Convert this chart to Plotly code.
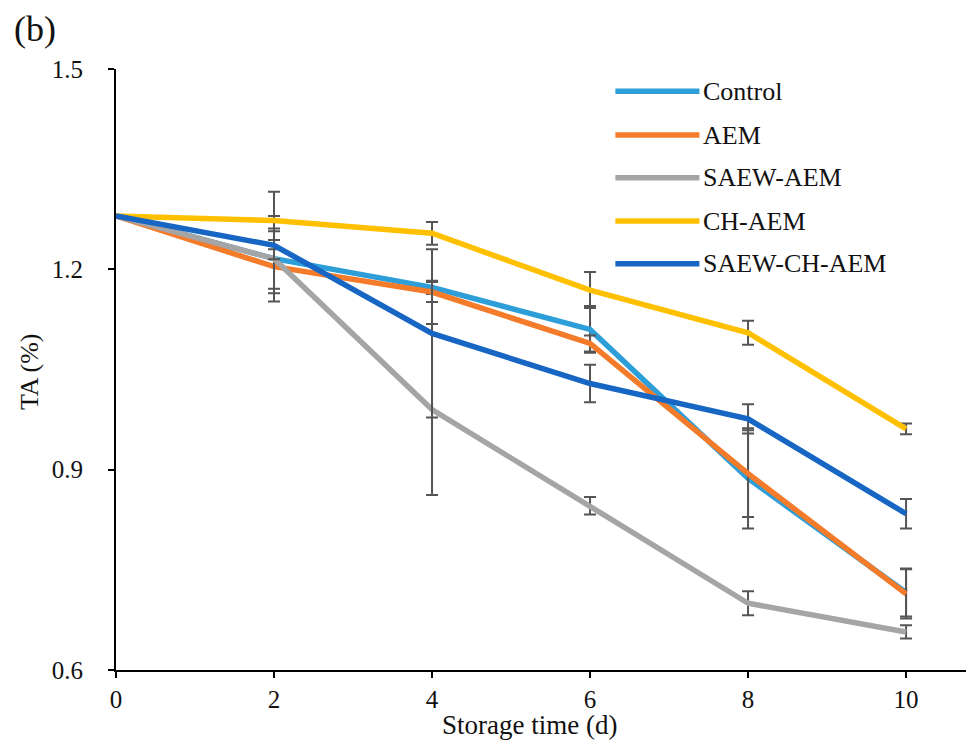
import plotly.graph_objects as go

days = [0, 2, 4, 6, 8, 10]
series_names = ["Control", "AEM", "SAEW-AEM", "CH-AEM", "SAEW-CH-AEM"]
control = [1.28, 1.216, 1.173, 1.110, 0.887, 0.716]
aem = [1.28, 1.204, 1.166, 1.089, 0.894, 0.714]
saew_aem = [1.28, 1.216, 0.990, 0.846, 0.700, 0.657]
ch_aem = [1.28, 1.273, 1.254, 1.169, 1.105, 0.961]
saew_ch_aem = [1.28, 1.236, 1.104, 1.029, 0.976, 0.834]

control_err = [0, 0.045, 0.010, 0.035, 0.075, 0.036]
aem_err = [0, 0.040, 0.015, 0.012, 0.065, 0.037]
saew_aem_err = [0, 0.064, 0.128, 0.013, 0.018, 0.010]
ch_aem_err = [0, 0.043, 0.017, 0.027, 0.018, 0.008]
saew_ch_aem_err = [0, 0.021, 0.126, 0.028, 0.022, 0.022]

y_ticks = [0.6, 0.9, 1.2, 1.5]
x_ticks = [0, 2, 4, 6, 8, 10]

colors = ["#2E9ED8", "#F47B2A", "#A5A5A5", "#FFC000", "#1766C4"]
values = [control, aem, saew_aem, ch_aem, saew_ch_aem]
errors = [control_err, aem_err, saew_aem_err, ch_aem_err, saew_ch_aem_err]

FONT = "Liberation Serif, Times New Roman, serif"

fig = go.Figure()
for name, vals, errs, col in zip(series_names, values, errors, colors):
    fig.add_trace(go.Scatter(
        x=days, y=vals, name=name, mode="lines",
        line=dict(color=col, width=5.5),
        error_y=dict(type="data", array=errs, visible=True,
                     color="#555555", thickness=2, width=6),
        showlegend=False,
    ))

# manual legend (long line swatches like the reference)
leg_y = [0.963, 0.890, 0.819, 0.747, 0.676]
for name, col, yy in zip(series_names, colors, leg_y):
    fig.add_shape(type="line", xref="paper", yref="paper",
                  x0=0.582, x1=0.680, y0=yy, y1=yy,
                  line=dict(color=col, width=5.5))
    fig.add_annotation(xref="paper", yref="paper", x=0.682, y=yy,
                       text=name, showarrow=False, xanchor="left",
                       yanchor="middle", font=dict(family=FONT, size=26, color="#111111"))

fig.add_annotation(xref="paper", yref="paper", x=-0.094, y=1.066, text="(b)",
                   showarrow=False, xanchor="center", yanchor="middle",
                   font=dict(family=FONT, size=36, color="#111111"))
fig.add_annotation(xref="paper", yref="paper", x=-0.100, y=0.496, text="TA (%)",
                   showarrow=False, textangle=-90, xanchor="center", yanchor="middle",
                   font=dict(family=FONT, size=26, color="#111111"))
fig.add_annotation(xref="paper", yref="paper", x=0.482, y=-0.092, text="Storage time (d)",
                   showarrow=False, xanchor="center", yanchor="middle",
                   font=dict(family=FONT, size=27, color="#111111"))

fig.update_layout(
    width=966, height=732,
    margin=dict(l=108, r=0, t=61, b=70),
    paper_bgcolor="white", plot_bgcolor="white",
    font=dict(family=FONT, size=25, color="#111111"),
)
fig.update_xaxes(range=[0, 10.86], tickvals=x_ticks, ticktext=[str(v) for v in x_ticks],
                 showgrid=False, zeroline=False, showline=True, linecolor="black",
                 linewidth=2, ticks="outside", ticklen=6, tickwidth=2, tickcolor="black",
                 ticklabelstandoff=0, tickfont=dict(family=FONT, size=25, color="#111111"),
                 automargin=False)
fig.update_yaxes(range=[0.6, 1.5], tickvals=y_ticks, ticktext=[f"{v:.1f}" for v in y_ticks],
                 showgrid=False, zeroline=False, showline=True, linecolor="black",
                 linewidth=2, ticks="outside", ticklen=6, tickwidth=2, tickcolor="black",
                 ticklabelstandoff=20, tickfont=dict(family=FONT, size=25, color="#111111"),
                 automargin=False)

fig.write_html("out.html")
